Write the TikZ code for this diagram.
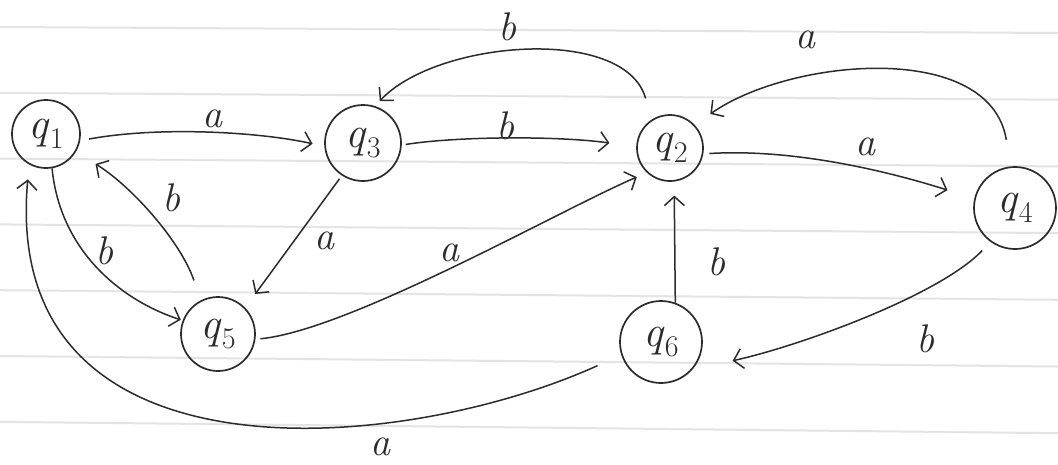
\documentclass[tikz,border=0pt]{standalone}
\usepackage{fontspec}
\usetikzlibrary{arrows.meta}
\definecolor{ink}{HTML}{2B2B2B}
\definecolor{rulecol}{HTML}{E4E4E4}
\newcommand{\stname}[1]{\textit{q}\raisebox{-0.22em}{\fontsize{30}{30}\selectfont #1}}
\begin{document}
\begin{tikzpicture}[x=1pt,y=-1pt,
  state/.style={circle,draw=ink,line width=1.7pt,inner sep=0pt,text=ink,font=\fontsize{44}{44}\selectfont},
  lab/.style={text=ink,inner sep=0pt,font=\fontsize{40}{40}\selectfont\itshape},
  edge/.style={draw=ink,line width=1.5pt,-{Straight Barb[length=9pt,width=20pt]}},
  paper/.style={draw=rulecol,line width=2pt}]
\fill[white] (0,0) rectangle (1058,464);
\useasboundingbox (0,0) rectangle (1058,464);
\foreach \k in {0,...,6} \draw[paper] (0,{27+65.8*\k}) -- (1058,{33+66.7*\k});
% states
\node[state,minimum size=68pt] (q1) at (46,134) {\stname{1}};
\node[state,minimum size=76pt] (q3) at (363,143) {\stname{3}};
\node[state,minimum size=66pt] (q2) at (670,148) {\stname{2}};
\node[state,minimum size=82pt] (q4) at (1015,208) {\stname{4}};
\node[state,minimum size=74pt] (q5) at (218,334) {\stname{5}};
\node[state,minimum size=82pt] (q6) at (661,342) {\stname{6}};
% transitions
\draw[edge,shorten <=9pt,shorten >=12pt] (q1.-11) .. controls (160,126) and (260,132) .. (q3.185);
\draw[edge,shorten <=4pt,shorten >=27pt] (q3.-3) .. controls (460,136) and (560,136) .. (q2.178);
\draw[edge,shorten <=22pt,shorten >=7pt] (q2.123) .. controls (625,25) and (437,40) .. (q3.72);
\draw[edge,shorten <=27pt,shorten >=19pt] (q4.96) .. controls (990,40) and (790,58) .. (q2.43);
\draw[edge,shorten <=6pt,shorten >=28pt] (q2.-10) .. controls (800,148) and (900,175) .. (q4.167);
\draw[edge,shorten <=12pt,shorten >=41pt] (q4.-126) .. controls (940,295) and (800,346) .. (q6.-41);
\draw[edge,shorten >=14pt] (q6.70) -- (q2.-83);
\draw[edge,shorten <=4pt,shorten >=17pt] (q3.-123) -- (q5.44);
\draw[edge,shorten <=5pt,shorten >=11pt] (q5.-8) .. controls (350,330) and (560,210) .. (q2.-133);
\draw[edge,shorten >=2pt] (q1.-80) .. controls (60,250) and (120,300) .. (q5.159);
\draw[edge,shorten <=21pt,shorten >=23pt] (q5.117) .. controls (180,240) and (130,185) .. (q1.-31);
\draw[edge,shorten <=26pt,shorten >=15pt] (q6.-162) .. controls (400,455) and (0,490) .. (q1.-119);
% labels
\node[lab] (la13) at (212,119) {a};
\node[lab] (lb32) at (505,126) {b};
\node[lab] (lb23) at (507,27) {b};
\node[lab] (la42) at (805,40) {a};
\node[lab] (la24) at (865,147) {a};
\node[lab] (lb62) at (716,262) {b};
\node[lab] (lb46) at (925,339) {b};
\node[lab] (la35) at (324,241) {a};
\node[lab] (la52) at (449,253) {a};
\node[lab] (lb15) at (104,251) {b};
\node[lab] (lb51) at (171,198) {b};
\node[lab] (la61) at (380,447) {a};
\end{tikzpicture}
\end{document}
